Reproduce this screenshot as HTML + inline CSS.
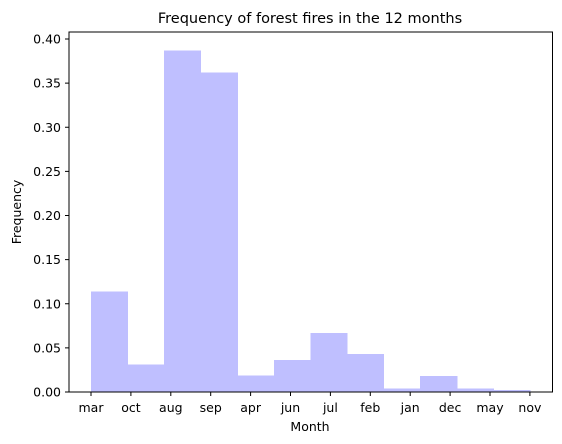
<!DOCTYPE html>
<html><head><meta charset="utf-8"><style>
html,body{margin:0;padding:0;background:#fff;}
svg{display:block;font-family:"DejaVu Sans","Liberation Sans",sans-serif;}
</style></head><body>
<svg id="chart" width="562" height="444" viewBox="0 0 562 444">
<text x="310" y="23" text-anchor="middle" font-size="14.5" fill="#000">Frequency of forest fires in the 12 months</text>
<g id="bars" shape-rendering="crispEdges"></g>
<g id="xticks"></g>
<g id="yticks"></g>
<rect x="69" y="32" width="483.5" height="360" fill="none" stroke="#000" stroke-width="1"/>
<text x="310" y="431" text-anchor="middle" font-size="12.5">Month</text>
<text transform="translate(21,212) rotate(-90)" text-anchor="middle" font-size="12.5">Frequency</text>
</svg>
<script>
const months = ["mar","oct","aug","sep","apr","jun","jul","feb","jan","dec","may","nov"];
const freqs = [0.114,0.031,0.387,0.362,0.0185,0.036,0.067,0.043,0.004,0.018,0.004,0.002];
const yTicks = [0,0.05,0.10,0.15,0.20,0.25,0.30,0.35,0.40];
const NS="http://www.w3.org/2000/svg";
const xS = v => 91 + v*39.9;
const yS = v => 392 - v*882.5;
const binW = 11/12;
const bars=document.getElementById('bars');
freqs.forEach((f,i)=>{
  const r=document.createElementNS(NS,'rect');
  const x0=xS(i*binW), x1=xS((i+1)*binW);
  r.setAttribute('x',x0);r.setAttribute('width',x1-x0+0.5);
  r.setAttribute('y',yS(f));r.setAttribute('height',yS(0)-yS(f));
  r.setAttribute('fill','#bfbfff');
  
  
  bars.appendChild(r);
});
const xt=document.getElementById('xticks');
months.forEach((m,i)=>{
  const x=xS(i);
  const l=document.createElementNS(NS,'line');
  l.setAttribute('x1',x);l.setAttribute('x2',x);l.setAttribute('y1',392);l.setAttribute('y2',396);
  l.setAttribute('stroke','#000');
  
  
  xt.appendChild(l);
  const t=document.createElementNS(NS,'text');
  t.setAttribute('x',x);t.setAttribute('y',412);t.setAttribute('text-anchor','middle');t.setAttribute('font-size','12.5');
  t.textContent=m;
  
  
  xt.appendChild(t);
});
const yt=document.getElementById('yticks');
yTicks.forEach(v=>{
  const y=yS(v);
  const l=document.createElementNS(NS,'line');
  l.setAttribute('x1',65);l.setAttribute('x2',69);l.setAttribute('y1',y);l.setAttribute('y2',y);
  l.setAttribute('stroke','#000');
  
  
  yt.appendChild(l);
  const t=document.createElementNS(NS,'text');
  t.setAttribute('x',61);t.setAttribute('y',y+4.5);t.setAttribute('text-anchor','end');t.setAttribute('font-size','12.5');
  t.textContent=v.toFixed(2);
  
  
  yt.appendChild(t);
});
</script>
</body></html>
